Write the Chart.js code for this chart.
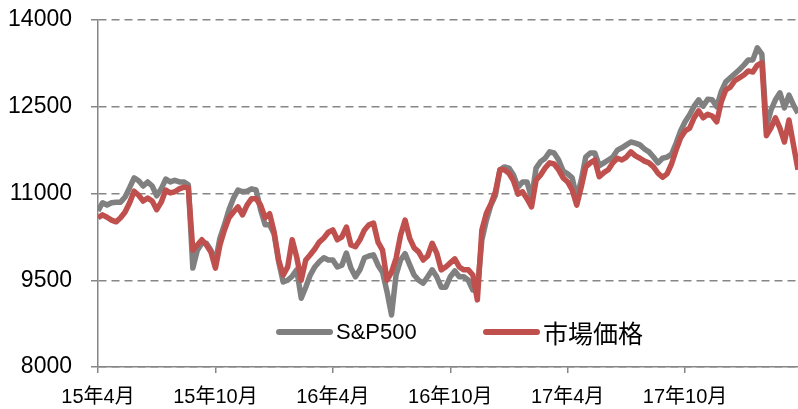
<!DOCTYPE html>
<html><head><meta charset="utf-8">
<script src="https://cdn.jsdelivr.net/npm/chart.js@4.4.0/dist/chart.umd.min.js"></script>
<style>html,body{margin:0;padding:0;background:#fff;}#wrap{width:798px;height:409px;}</style>
</head><body><div id="wrap"><canvas id="c" width="798" height="409"></canvas></div>
<script>
// Weekly observations starting April 2015 (index = week number)
const xTickLabels = ['15年4月','15年10月','16年4月','16年10月','17年4月','17年10月'];
const xTickWeeks = [0, 26, 52, 78, 104, 130];
const yTicks = [8000, 9500, 11000, 12500, 14000];
const seriesNames = ['S&P500', '市場価格'];

const sp500 = [
  10700,10840,10800,10840,10850,10850,10940,11100,11270,11220,
  11130,11200,11130,10960,11080,11250,11200,11230,11200,11200,
  11150,9710,10020,10140,10140,10020,9820,10230,10460,10720,
  10920,11060,11030,11040,11080,11060,10720,10460,10460,10300,
  9820,9470,9500,9570,9680,9190,9380,9590,9730,9820,
  9890,9850,9850,9730,9760,9970,9710,9560,9680,9890,
  9920,9940,9760,9640,9300,8900,9590,9850,9960,9770,
  9590,9500,9450,9560,9680,9560,9380,9380,9560,9660,
  9560,9560,9500,9330,9330,10200,10540,10800,10970,11410,
  11460,11440,11320,11110,11200,11200,10920,11440,11550,11610,
  11720,11700,11580,11390,11340,11270,10920,11230,11630,11700,
  11700,11480,11530,11580,11630,11750,11790,11840,11890,11870,
  11840,11770,11720,11630,11530,11610,11630,11680,11870,12080,
  12240,12360,12510,12620,12510,12630,12620,12500,12760,12930,
  13000,13070,13140,13220,13310,13310,13520,13410,12150,12440,
  12620,12740,12480,12700,12530,12390
];

const market = [
  10580,10630,10590,10540,10510,10580,10680,10840,11040,10970,
  10870,10920,10870,10720,10850,11060,11010,11030,11080,11110,
  11100,10020,10110,10200,10110,9990,9710,10110,10370,10580,
  10680,10770,10630,10800,10910,10910,10800,10580,10650,10330,
  9850,9590,9730,10200,9900,9500,9850,9940,10040,10160,
  10230,10330,10370,10200,10250,10420,10110,10080,10200,10370,
  10460,10490,10160,10020,9500,9640,9880,10280,10540,10230,
  10060,9990,9850,9920,10140,9970,9680,9730,9800,9870,
  9730,9680,9680,9590,9160,10370,10660,10820,11030,11410,
  11410,11350,11220,10990,11030,10910,10770,11230,11320,11440,
  11530,11510,11410,11270,11200,11060,10800,11110,11460,11530,
  11580,11290,11360,11410,11530,11610,11580,11630,11720,11650,
  11610,11560,11530,11460,11350,11280,11340,11510,11750,11960,
  12080,12130,12310,12430,12310,12370,12340,12240,12580,12790,
  12840,12950,13000,13050,13120,13100,13220,13260,12000,12130,
  12310,12130,11890,12270,11840,11410
];

const GRAY = '#808080';
const RED = '#C0504D';
const AXIS = '#868686';
const FONT = "'Liberation Sans', 'Noto Sans CJK JP', sans-serif";

const inlineLegend = {
  id: 'inlineLegend',
  afterDatasetsDraw(chart, args, opts) {
    const ctx = chart.ctx;
    chart.data.datasets.forEach((ds, i) => {
      const it = opts.items[i];
      ctx.save();
      ctx.strokeStyle = ds.borderColor;
      ctx.lineWidth = opts.lineWidth;
      ctx.lineCap = 'round';
      ctx.beginPath();
      ctx.moveTo(it.x, opts.y);
      ctx.lineTo(it.x + opts.lineLen, opts.y);
      ctx.stroke();
      ctx.fillStyle = '#000';
      ctx.font = it.font;
      ctx.textBaseline = 'middle';
      ctx.textAlign = 'left';
      ctx.fillText(ds.label, it.x + opts.lineLen + opts.gap, opts.y + 1);
      ctx.restore();
    });
  }
};

const toPts = arr => arr.map((v, i) => ({x: i, y: v}));

new Chart(document.getElementById('c'), {
  type: 'line',
  data: {
    datasets: [
      {label: seriesNames[0], data: toPts(sp500), borderColor: GRAY, borderWidth: 5.5,
       pointRadius: 0, tension: 0, borderJoinStyle: 'round', order: 2},
      {label: seriesNames[1], data: toPts(market), borderColor: RED, borderWidth: 5.5,
       pointRadius: 0, tension: 0, borderJoinStyle: 'round', order: 1}
    ]
  },
  plugins: [inlineLegend],
  options: {
    responsive: false,
    animation: false,
    layout: {padding: {top: 20, right: 0, bottom: 0, left: 0}},
    plugins: {
      legend: {display: false},
      tooltip: {enabled: false},
      inlineLegend: {
        y: 332, lineLen: 51, gap: 6, lineWidth: 6,
        items: [
          {x: 279, font: "22px 'Liberation Sans'"},
          {x: 486, font: "25px 'Noto Sans CJK JP'"}
        ]
      }
    },
    scales: {
      x: {
        type: 'linear', min: 0, max: 155,
        afterBuildTicks: s => { s.ticks = xTickWeeks.map(v => ({value: v})); },
        afterFit: s => { s.height = 42; s.paddingLeft = 0; s.paddingRight = 0; },
        ticks: {
          autoSkip: false, maxRotation: 0, color: '#000', padding: 12,
          font: {family: FONT, size: 20},
          callback: v => xTickLabels[xTickWeeks.indexOf(v)]
        },
        grid: {drawOnChartArea: false, tickLength: 6, color: AXIS, lineWidth: 1.5},
        border: {color: AXIS, width: 1.5}
      },
      y: {
        min: 8000, max: 14000,
        afterBuildTicks: s => { s.ticks = yTicks.map(v => ({value: v})); },
        afterFit: s => { s.width = 98; s.paddingTop = 0; s.paddingBottom = 0; },
        ticks: {color: '#000', padding: 19, font: {family: FONT, size: 23},
                callback: v => String(v)},
        grid: {color: AXIS, lineWidth: 1.5, tickLength: 7},
        border: {color: AXIS, width: 1.5, dash: [8, 5]}
      }
    }
  }
});
</script></body></html>
